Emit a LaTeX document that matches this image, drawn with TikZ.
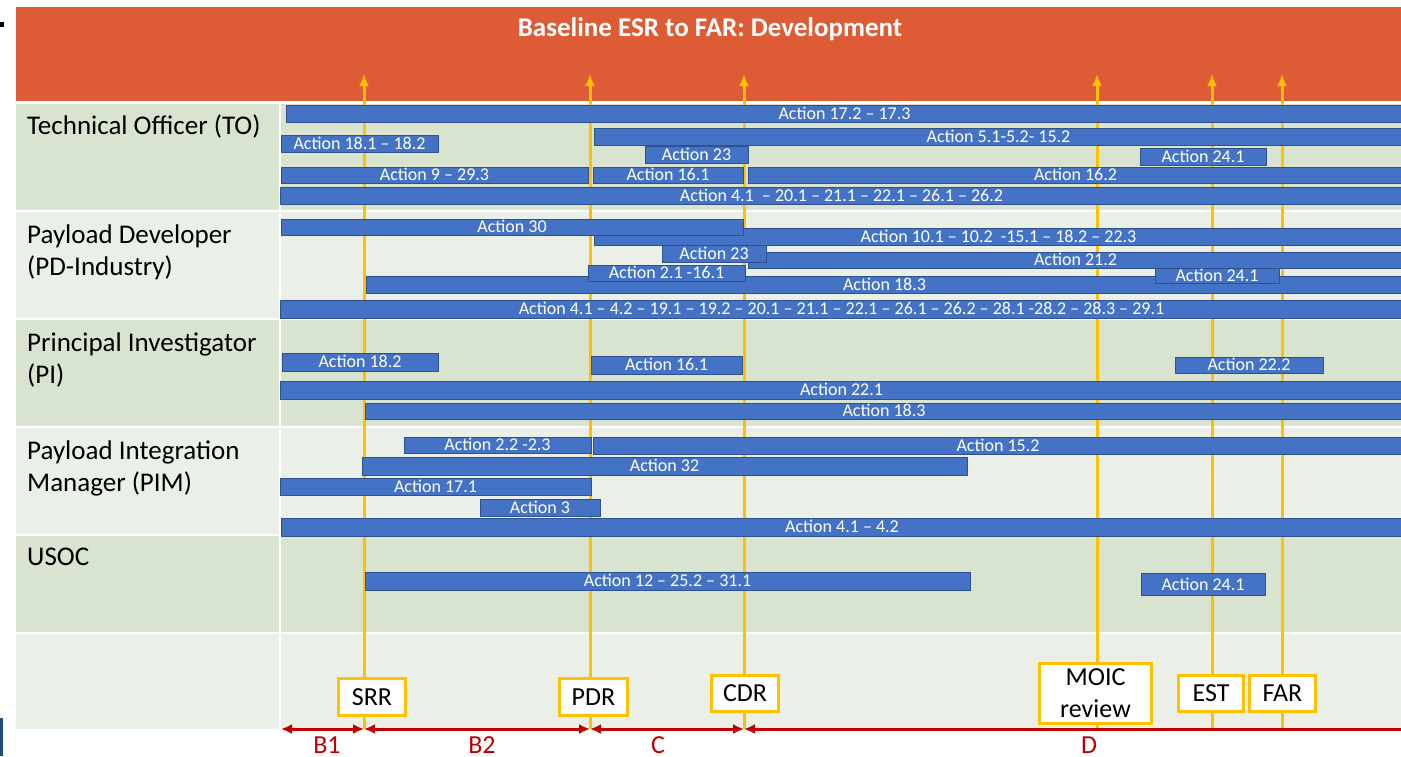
\documentclass[tikz,border=0pt]{standalone}
\usepackage{fontspec}
\setmainfont{Carlito}
\usepackage{xcolor}
\usetikzlibrary{arrows, arrows.meta, positioning, calc}
\definecolor{hdrorange}{HTML}{DE5C35}
\definecolor{rowdark}{HTML}{D8E3D0}
\definecolor{rowlight}{HTML}{EAEFE8}
\definecolor{msyellow}{HTML}{FFC000}
\definecolor{barblue}{HTML}{4472C4}
\definecolor{barline}{HTML}{2F528F}
\definecolor{phasered}{HTML}{C00000}
\definecolor{edgeblue}{HTML}{1F4E79}
\tikzstyle{actbar} = [rectangle, fill=barblue, draw=barline, line width=1pt, minimum height=17pt, inner sep=0pt, text=white, font=\fontsize{18}{20}\selectfont, text height=11.5pt, text depth=0pt]
\tikzstyle{rolelabel} = [anchor=base west, align=left, inner sep=0pt, font=\fontsize{27}{32}\selectfont]
\tikzstyle{milestone} = [rectangle, fill=white, draw=msyellow, line width=3pt, inner sep=0pt, align=center, font=\fontsize{26}{32}\selectfont]
\tikzstyle{msline} = [line width=3pt, draw=msyellow, -{Latex[length=12pt,width=10pt]}]
\tikzstyle{phase} = [line width=3pt, draw=phasered, {Latex[length=11pt,width=10pt]}-{Latex[length=11pt,width=10pt]}]
\tikzstyle{phaselabel} = [anchor=base, inner sep=0pt, text=phasered, font=\fontsize{26}{30}\selectfont]

\begin{document}
\begin{tikzpicture}[x=1pt, y=-1pt]
    \useasboundingbox (0,0) rectangle (1401,756);
    % 背景
    \fill[black] (0,22) rectangle (4,27);
    \fill[edgeblue] (0,718) rectangle (3,756);
    \fill[hdrorange] (16,7) rectangle (1401,101);
    \node (title) at (710,36) [anchor=base, text=white, font=\bfseries\fontsize{27}{30}\selectfont] {Baseline ESR to FAR: Development};
    \fill[rowdark] (16,104) rectangle (279,210);   \fill[rowdark] (281,104) rectangle (1401,210);
    \fill[rowlight] (16,212) rectangle (279,318);  \fill[rowlight] (281,212) rectangle (1401,318);
    \fill[rowdark] (16,320) rectangle (279,426);   \fill[rowdark] (281,320) rectangle (1401,426);
    \fill[rowlight] (16,428) rectangle (279,534);  \fill[rowlight] (281,428) rectangle (1401,534);
    \fill[rowdark] (16,536) rectangle (279,632);   \fill[rowdark] (281,536) rectangle (1401,632);
    \fill[rowlight] (16,634) rectangle (279,729);  \fill[rowlight] (281,634) rectangle (1401,729);

    % 角色 (base = 最后一行)
    \node (lto) [rolelabel] at (27,134) {Technical Officer (TO)};
    \node (lpd) [rolelabel] at (27,275) {Payload Developer\\(PD-Industry)};
    \node (lpi) [rolelabel] at (27,383) {Principal Investigator\\(PI)};
    \node (lpim) [rolelabel] at (27,491) {Payload Integration\\Manager (PIM)};
    \node (lusoc) [rolelabel] at (27,565) {USOC};

    % 里程碑线
    \coordinate (srrtop) at (364,74);   \coordinate (srrbot) at (364,729);
    \coordinate (pdrtop) at (590,74);   \coordinate (pdrbot) at (590,729);
    \coordinate (cdrtop) at (744,74);   \coordinate (cdrbot) at (744,729);
    \coordinate (moictop) at (1097,74); \coordinate (moicbot) at (1097,729);
    \coordinate (esttop) at (1212,74);  \coordinate (estbot) at (1212,729);
    \coordinate (fartop) at (1282,74);  \coordinate (farbot) at (1282,729);
    \draw [msline] (srrbot) -- (srrtop);
    \draw [msline] (pdrbot) -- (pdrtop);
    \draw [msline] (cdrbot) -- (cdrtop);
    \draw [msline] (moicbot) -- (moictop);
    \draw [msline] (estbot) -- (esttop);
    \draw [msline] (farbot) -- (fartop);

    % TO
    \node (to1) [actbar, minimum width=1117pt] at (844.5,113.5) {Action 17.2 -- 17.3};
    \node (to2) [actbar, minimum width=157pt] at (359.5,143.5) {Action 18.1 -- 18.2};
    \node (to3) [actbar, minimum width=809pt] at (998.5,136.5) {Action 5.1-5.2- 15.2};
    \node (to4) [actbar, minimum width=103pt] at (696.5,154.5) {Action 23};
    \node (to5) [actbar, minimum width=126pt] at (1203,156.5) {Action 24.1};
    \node (to6) [actbar, minimum width=307pt, minimum height=16pt] at (434.5,175) {Action 9 -- 29.3};
    \node (to7) [actbar, minimum width=150pt, minimum height=16pt] at (668,175) {Action 16.1};
    \node (to8) [actbar, minimum width=655pt, minimum height=16pt] at (1075.5,175) {Action 16.2};
    \node (to9) [actbar, minimum width=1123pt] at (841.5,195.5) {Action 4.1\ \ -- 20.1 -- 21.1 -- 22.1 -- 26.1 -- 26.2};

    % PD
    \node (pd1) [actbar, minimum width=809pt] at (998.5,236.5) {Action 10.1 -- 10.2\ \ -15.1 -- 18.2 -- 22.3};
    \node (pd2) [actbar, minimum width=655pt, minimum height=16pt] at (1075.5,260) {Action 21.2};
    \node (pd3) [actbar, minimum width=1037pt] at (884.5,284.5) {Action 18.3};
    \node (pd4) [actbar, minimum width=462pt, minimum height=16pt] at (512,227) {Action 30};
    \node (pd5) [actbar, minimum width=104pt] at (714,253.5) {Action 23};
    \node (pd6) [actbar, minimum width=157pt, minimum height=16pt] at (666.5,273) {Action 2.1 -16.1};
    \node (pd7) [actbar, minimum width=124pt, minimum height=15pt] at (1217,275.5) {Action 24.1};
    \node (pd8) [actbar, minimum width=1123pt, minimum height=18pt] at (841.5,309) {Action 4.1 -- 4.2 -- 19.1 -- 19.2 -- 20.1 -- 21.1 -- 22.1 -- 26.1 -- 26.2 -- 28.1 -28.2 -- 28.3 -- 29.1};

    % PI
    \node (pi1) [actbar, minimum width=156pt, minimum height=18pt] at (360,362) {Action 18.2};
    \node (pi2) [actbar, minimum width=151pt, minimum height=18pt] at (666.5,365) {Action 16.1};
    \node (pi3) [actbar, minimum width=148pt, minimum height=16pt] at (1249,365) {Action 22.2};
    \node (pi4) [actbar, minimum width=1123pt, minimum height=18pt] at (841.5,390) {Action 22.1};
    \node (pi5) [actbar, minimum width=1038pt, minimum height=16pt] at (884,411) {Action 18.3};

    % PIM
    \node (pim1) [actbar, minimum width=187pt, minimum height=16pt] at (497.5,445) {Action 2.2 -2.3};
    \node (pim2) [actbar, minimum width=810pt] at (998,445.5) {Action 15.2};
    \node (pim3) [actbar, minimum width=605pt, minimum height=18pt] at (664.5,466) {Action 32};
    \node (pim4) [actbar, minimum width=311pt] at (435.5,486.5) {Action 17.1};
    \node (pim5) [actbar, minimum width=120pt] at (540,507.5) {Action 3};
    \node (pim6) [actbar, minimum width=1122pt, minimum height=18pt] at (842,527) {Action 4.1 -- 4.2};

    % USOC
    \node (us1) [actbar, minimum width=605pt, minimum height=18pt] at (667.5,581) {Action 12 -- 25.2 -- 31.1};
    \node (us2) [actbar, minimum width=124pt, minimum height=22pt] at (1203,584.5) {Action 24.1};

    % 里程碑
    \node (srr) [milestone, minimum width=67pt, minimum height=37pt] at (372,697) {SRR};
    \node (pdr) [milestone, minimum width=68pt, minimum height=37pt] at (593.5,697) {PDR};
    \node (cdr) [milestone, minimum width=67pt, minimum height=36pt] at (745,693.5) {CDR};
    \node (moic) [milestone, minimum width=112pt, minimum height=60pt] at (1095.5,693.5) {MOIC\\review};
    \node (est) [milestone, minimum width=65pt, minimum height=36pt] at (1211,693.5) {EST};
    \node (far) [milestone, minimum width=66pt, minimum height=36pt] at (1282.5,693.5) {FAR};

    % 阶段
    \coordinate (tstart) at (281,729);
    \coordinate (tend) at (1412,729);
    \draw [phase] (tstart) -- (srrbot);
    \draw [phase] (srrbot) -- (pdrbot);
    \draw [phase] (pdrbot) -- (cdrbot);
    \draw [phase] (cdrbot) -- (tend);
    \node (pb1) [phaselabel] at (327,753) {B1};
    \node (pb2) [phaselabel] at (482,753) {B2};
    \node (pc) [phaselabel] at (658,753) {C};
    \node (pd) [phaselabel] at (1089,753) {D};
\end{tikzpicture}
\end{document}
